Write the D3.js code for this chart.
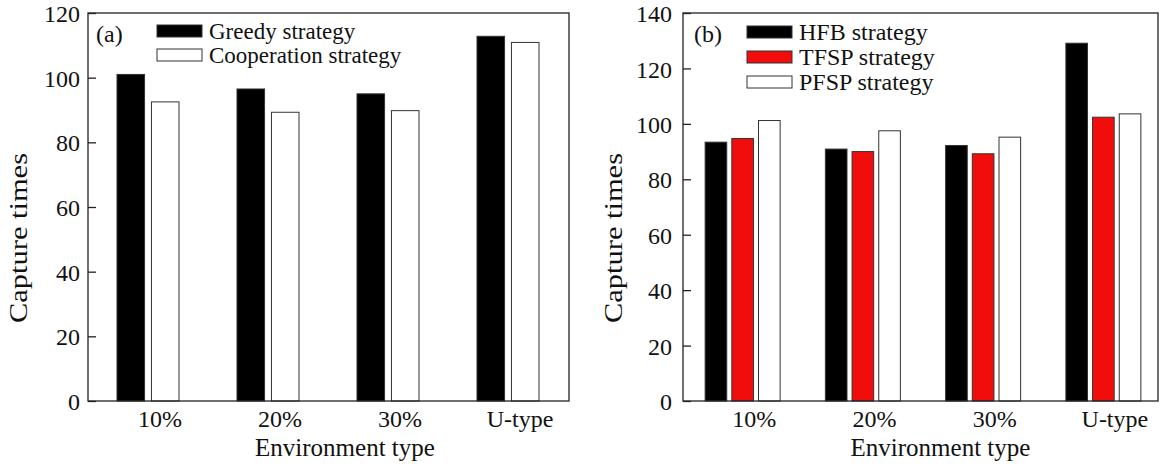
<!DOCTYPE html>
<html>
<head>
<script src="https://d3js.org/d3.v7.min.js"></script>
<style>
  body { margin: 0; background: #fff; }
  svg text { font-family: "Liberation Serif", "Times New Roman", serif; fill: #111; }
</style>
</head>
<body>
<div id="chart"></div>
<script>
// data
var envTypes = ["10%", "20%", "30%", "U-type"];

// panel (a)
var greedy      = [101, 96.5, 95, 112.8];
var cooperation = [92.5, 89.3, 89.8, 110.9];
var ticksA = [0, 20, 40, 60, 80, 100, 120];

// panel (b)
var hfb  = [93.4, 90.9, 92.2, 129.1];
var tfsp = [94.7, 90.0, 89.2, 102.4];
var pfsp = [101.2, 97.5, 95.2, 103.6];
var ticksB = [0, 20, 40, 60, 80, 100, 120, 140];

var svg = d3.select("#chart").append("svg")
    .attr("width", 1159)
    .attr("height", 470);

function drawPanel(o) {
    var g = svg.append("g");

    var x0 = d3.scaleBand().domain(envTypes).range([o.left, o.bandRight]).padding(0);
    var x1 = d3.scaleBand().domain(o.series.map(function(s) { return s.name; }))
        .range([o.innerL, o.innerR]).paddingInner(o.innerPad);
    var y = d3.scaleLinear().domain([0, o.ymax]).range([401, 13]);

    // bars
    o.series.forEach(function(s) {
        g.selectAll(null)
            .data(s.values)
            .enter()
            .append("rect")
                .attr("x", function(d, i) { return x0(envTypes[i]) + x0.bandwidth() / 2 + x1(s.name); })
                .attr("y", function(d) { return y(d); })
                .attr("width", x1.bandwidth())
                .attr("height", function(d) { return y(0) - y(d); })
                .attr("fill", s.color)
                .attr("stroke", "#333")
                .attr("stroke-width", 1);
    });

    // frame
    g.append("rect")
        .attr("x", o.left)
        .attr("y", 13)
        .attr("width", o.right - o.left)
        .attr("height", 401 - 13)
        .attr("fill", "none")
        .attr("stroke", "#222")
        .attr("stroke-width", 1.3);

    // y axis, ticks pointing inward
    var yAxis = g.append("g")
        .attr("transform", "translate(" + o.left + ",0)")
        .call(d3.axisLeft(y).tickValues(o.ticks).tickSize(-8).tickPadding(o.tickPad));
    yAxis.select(".domain").remove();
    yAxis.selectAll("line").attr("stroke", "#222").attr("stroke-width", 1.3);
    yAxis.selectAll("text").attr("font-size", 24).attr("font-family", null).attr("fill", "#111").attr("dy", "0.36em");

    // x axis labels
    var xAxis = g.append("g")
        .attr("transform", "translate(" + o.labelShift + ",401)")
        .call(d3.axisBottom(x0).tickSize(0).tickPadding(9));
    xAxis.select(".domain").remove();
    xAxis.selectAll("text").attr("font-size", 24).attr("font-family", null).attr("fill", "#111");

    // axis titles
    g.append("text")
        .attr("x", (o.left + o.bandRight) / 2 + 17)
        .attr("y", 456)
        .attr("text-anchor", "middle")
        .attr("font-size", 25)
        .text("Environment type");

    g.append("text")
        .attr("transform", "translate(" + o.ytitleX + ",238) rotate(-90)")
        .attr("text-anchor", "middle")
        .attr("font-size", 26)
        .attr("textLength", 170)
        .attr("lengthAdjust", "spacingAndGlyphs")
        .text("Capture times");

    // panel tag
    g.append("text")
        .attr("x", o.tagX)
        .attr("y", 42)
        .attr("font-size", 24)
        .text(o.tag);

    // legend
    o.series.forEach(function(s, i) {
        var ly = o.legY + i * o.legStep;
        g.append("rect")
            .attr("x", o.legX)
            .attr("y", ly)
            .attr("width", 45)
            .attr("height", 12)
            .attr("fill", s.color)
            .attr("stroke", "#333")
            .attr("stroke-width", 1);
        g.append("text")
            .attr("x", o.legX + 52)
            .attr("y", ly + 6)
            .attr("dy", "0.33em")
            .attr("font-size", o.legFont)
            .text(s.label);
    });
}

drawPanel({
    left: 88, right: 569, bandRight: 568,
    innerL: -31, innerR: 31, innerPad: 0.2,
    ymax: 120, ticks: ticksA, tickPad: 8,
    labelShift: 12, ytitleX: 27,
    tag: "(a)", tagX: 96,
    legX: 157, legY: 25, legStep: 24, legFont: 23,
    series: [
        {name: "greedy", label: "Greedy strategy", values: greedy, color: "#000"},
        {name: "coop", label: "Cooperation strategy", values: cooperation, color: "#fff"}
    ]
});

drawPanel({
    left: 683, right: 1158, bandRight: 1164,
    innerL: -38, innerR: 37, innerPad: 0.19,
    ymax: 140, ticks: ticksB, tickPad: 11,
    labelShift: 11, ytitleX: 622,
    tag: "(b)", tagX: 694,
    legX: 747, legY: 26, legStep: 25, legFont: 24,
    series: [
        {name: "hfb", label: "HFB strategy", values: hfb, color: "#000"},
        {name: "tfsp", label: "TFSP strategy", values: tfsp, color: "#f20d0d"},
        {name: "pfsp", label: "PFSP strategy", values: pfsp, color: "#fff"}
    ]
});
</script>
</body>
</html>
